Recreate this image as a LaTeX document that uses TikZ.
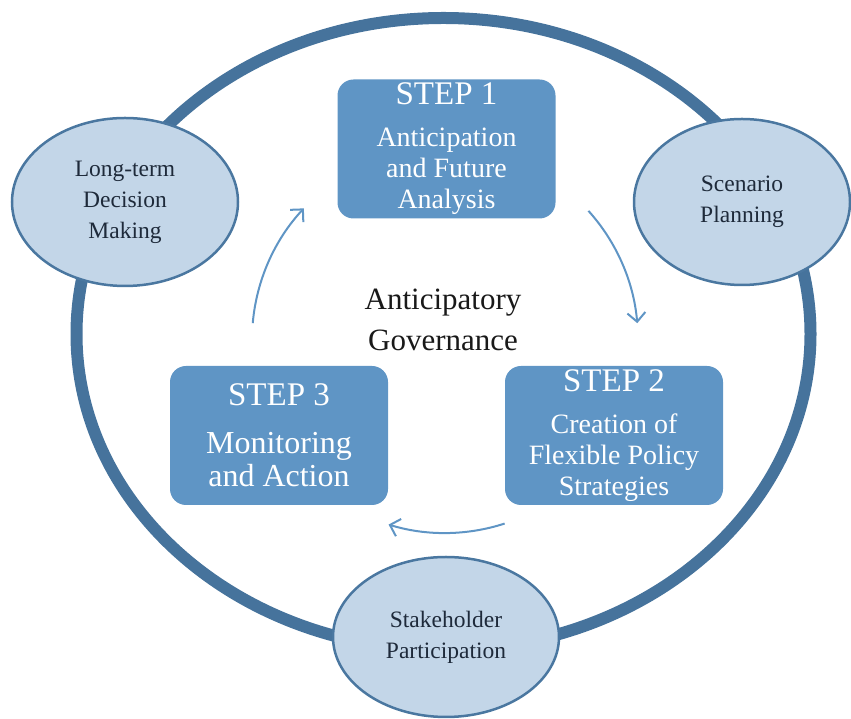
\documentclass[tikz,border=0pt]{standalone}
\usepackage{fontspec}
\setmainfont{Liberation Serif}
\usetikzlibrary{shapes.geometric,arrows.meta}

\definecolor{ringblue}{HTML}{46739C}
\definecolor{stepblue}{HTML}{5F95C5}
\definecolor{paleblue}{HTML}{C3D6E8}
\definecolor{edgeblue}{HTML}{4A77A0}
\definecolor{inktext}{HTML}{1E2A3A}

\begin{document}
\begin{tikzpicture}[x=1pt,y=1pt]

	\useasboundingbox (0,0) rectangle (851,719);
	
	\tikzset{stepbox/.style=
		{fill=stepblue,rounded corners=16pt,text=white,align=center,
			minimum width=218pt,minimum height=139pt,inner sep=0pt}}
	\tikzset{topic/.style=
		{ellipse,draw=edgeblue,line width=2.5pt,fill=paleblue,text=inktext,
			align=center,inner sep=0pt,font=\fontsize{23.5}{31}\selectfont}}
	\tikzset{turn/.style=
		{stepblue,line width=2pt,-{Straight Barb[length=9pt,width=18pt]}}}
	
	% outer ring
	\draw[ringblue,line width=12pt] (443.5,385) ellipse [x radius=367pt,y radius=316pt];
	
	\node[topic,minimum width=226pt,minimum height=168pt] (longterm) at (125,517)
		{Long-term\\Decision\\Making};
	\node[topic,minimum width=216pt,minimum height=166pt] (scenario) at (742,517)
		{Scenario\\Planning};
	\node[topic,minimum width=226pt,minimum height=160pt] (stakeholder) at (446,82)
		{Stakeholder\\Participation};
	
	\node[stepbox,font=\fontsize{28}{31}\selectfont] (step1) at (446.5,570)
		{{\fontsize{33}{33}\selectfont STEP 1}\\[11pt]Anticipation\\and Future\\Analysis};
	\node[stepbox,font=\fontsize{28}{31}\selectfont] (step2) at (614,283.5)
		{{\fontsize{33}{33}\selectfont STEP 2}\\[11pt]Creation of\\Flexible Policy\\Strategies};
	\node[stepbox,font=\fontsize{32}{33}\selectfont] (step3) at (279,283.5)
		{{\fontsize{33}{33}\selectfont STEP 3}\\[15pt]Monitoring\\and Action};
	
	\node[align=center,text=black!90,font=\fontsize{31}{41}\selectfont] (governance) at (443,399)
		{Anticipatory\\Governance};
	
	% arrows between the steps
	\coordinate (hub) at (445,379);
	\draw[turn] ([shift={(42:193pt)}]hub) arc[start angle=42,end angle=5,radius=193pt];
	\draw[turn] ([shift={(-72:193pt)}]hub) arc[start angle=-72,end angle=-107,radius=193pt];
	\draw[turn] ([shift={(175:193pt)}]hub) arc[start angle=175,end angle=137,radius=193pt];
\end{tikzpicture}
\end{document}
